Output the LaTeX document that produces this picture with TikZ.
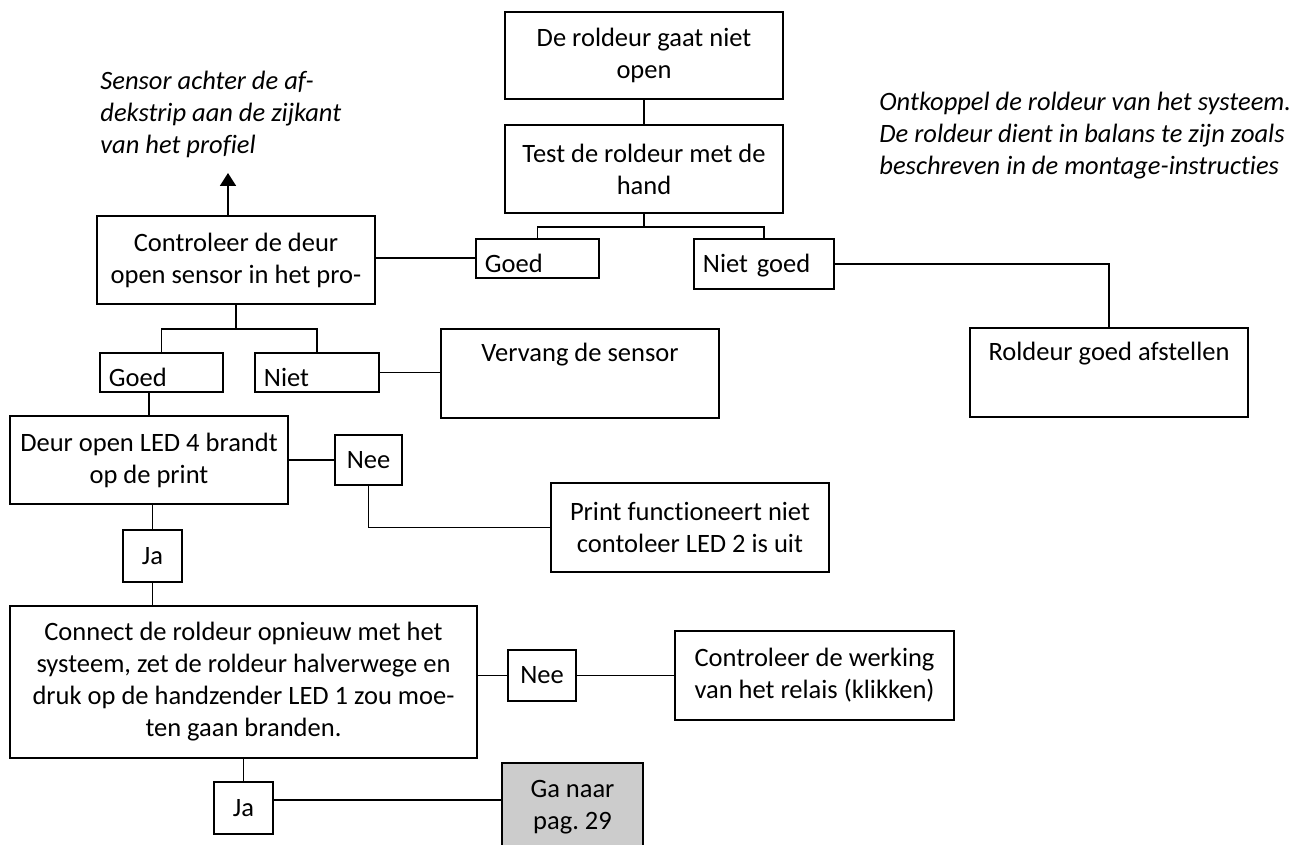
\documentclass[tikz,border=0pt]{standalone}
\usepackage{fontspec}
\setmainfont[Ligatures=NoCommon]{Carlito}
\usepackage{tikz}
\usetikzlibrary{arrows.meta,positioning,calc}
\definecolor{gabox}{HTML}{CCCCCC}
\tikzset{
  box/.style={draw, line width=0.9pt, align=center, inner sep=2pt},
  ans/.style={draw, line width=0.9pt, align=left, anchor=north west, inner xsep=4.5pt, inner ysep=0pt},
  note/.style={align=left, anchor=west, inner sep=0pt, font=\itshape},
  conn/.style={line width=0.9pt}
}
\frenchspacing

\begin{document}
\begin{tikzpicture}[x=0.5pt,y=-0.5pt]
\fontsize{13.25}{16}\selectfont
\useasboundingbox (0,0) rectangle (1296,845);
\node[box, minimum width=139pt, minimum height=43.5pt] (top) at (644,55.5) {De roldeur gaat niet\\open};
\node[box, minimum width=139pt, minimum height=44pt] (test) at (644,169) {Test de roldeur met de\\hand};
\node[ans, text width=52.5pt, text height=16.75pt, text depth=2.75pt] (goedA) at (475,238) {Goed};
\node[ans, text width=61pt, text height=16.75pt, text depth=8.25pt] (nietgoed) at (693,238) {Niet goed};
\node[box, minimum width=139pt, minimum height=44.5pt] (roldeur) at (1109,372.5) {Roldeur goed afstellen\\ \strut};
\node[note] (ontkoppel) at (879,135.5) {Ontkoppel de roldeur van het systeem.\\De roldeur dient in balans te zijn zoals\\beschreven in de montage-instructies};
% sensor branch
\node[box, minimum width=139pt, minimum height=44pt] (controleer) at (236,260) {Controleer de deur\\open sensor in het pro-};
\node[note] (sensor) at (100,114.5) {Sensor achter de af-\\dekstrip aan de zijkant\\van het profiel};
\coordinate (tip) at (228,173);
\node[ans, text width=52.5pt, text height=16.75pt, text depth=2.75pt] (goedB) at (99,352) {Goed};
\node[ans, text width=53pt, text height=16.75pt, text depth=2.75pt] (nietB) at (254,352) {Niet};
\node[box, minimum width=139pt, minimum height=44.5pt] (vervang) at (580,373.5) {Vervang de sensor\\ \strut};
% LED checks
\node[box, minimum width=139pt, minimum height=44pt] (deur) at (149,460) {Deur open LED 4 brandt\\op de print};
\node[box, minimum width=33.5pt, minimum height=25pt] (nee1) at (368.5,460) {Nee};
\node[box, minimum width=139pt, minimum height=44.5pt] (print) at (690,527.5) {Print functioneert niet\\contoleer LED 2 is uit};
\node[box, minimum width=29.5pt, minimum height=26pt] (ja1) at (152.5,556) {Ja};
\node[box, minimum width=233.5pt, minimum height=76pt] (connect) at (243.5,682) {Connect de roldeur opnieuw met het\\systeem, zet de roldeur halverwege en\\druk op de handzender LED 1 zou moe-\\ten gaan branden.};
\node[box, minimum width=34pt, minimum height=25.5pt] (nee2) at (542,675.5) {Nee};
\node[box, minimum width=139.5pt, minimum height=44.5pt] (werking) at (814.5,675.5) {Controleer de werking\\van het relais (klikken)};
\node[box, minimum width=29.5pt, minimum height=26pt] (ja2) at (243.5,808) {Ja};
\node[box, fill=gabox, minimum width=70.5pt, minimum height=44.5pt] (ga) at (572.5,807.5) {Ga naar\\pag. 29};
% connectors
\draw[conn] (top) -- (test);
\draw[conn] (test.south) -- ++(0,13) coordinate (split1);
\draw[conn] (goedA.north) |- (split1) -| (nietgoed.north);
\draw[conn] (goedA.west) -- (goedA.west -| controleer.east);
\draw[conn] (nietgoed.east) -| (roldeur.north);
\draw[conn, -{Triangle[width=8pt,length=6.5pt]}] (tip |- controleer.north) -- (tip);
\draw[conn] (controleer.south) -- ++(0,24) coordinate (split2);
\draw[conn] (goedB.north) |- (split2) -| (nietB.north);
\draw[conn] (nietB.east) -- (nietB.east -| vervang.west);
\draw[conn] (deur.north) -- (deur.north |- goedB.south);
\draw[conn] (deur.east) -- (nee1.west);
\draw[conn] (nee1.south) |- (print.west);
\draw[conn] (ja1.north) -- (ja1.north |- deur.south);
\draw[conn] (ja1.south) -- (ja1.south |- connect.north);
\draw[conn] (nee2.west) -- (nee2.west -| connect.east);
\draw[conn] (nee2.east) -- (werking.west);
\draw[conn] (connect.south) -- (ja2.north);
\draw[conn] ([yshift=4pt]ja2.east) -- ([yshift=4pt]ja2.east -| ga.west);
\end{tikzpicture}
\end{document}
